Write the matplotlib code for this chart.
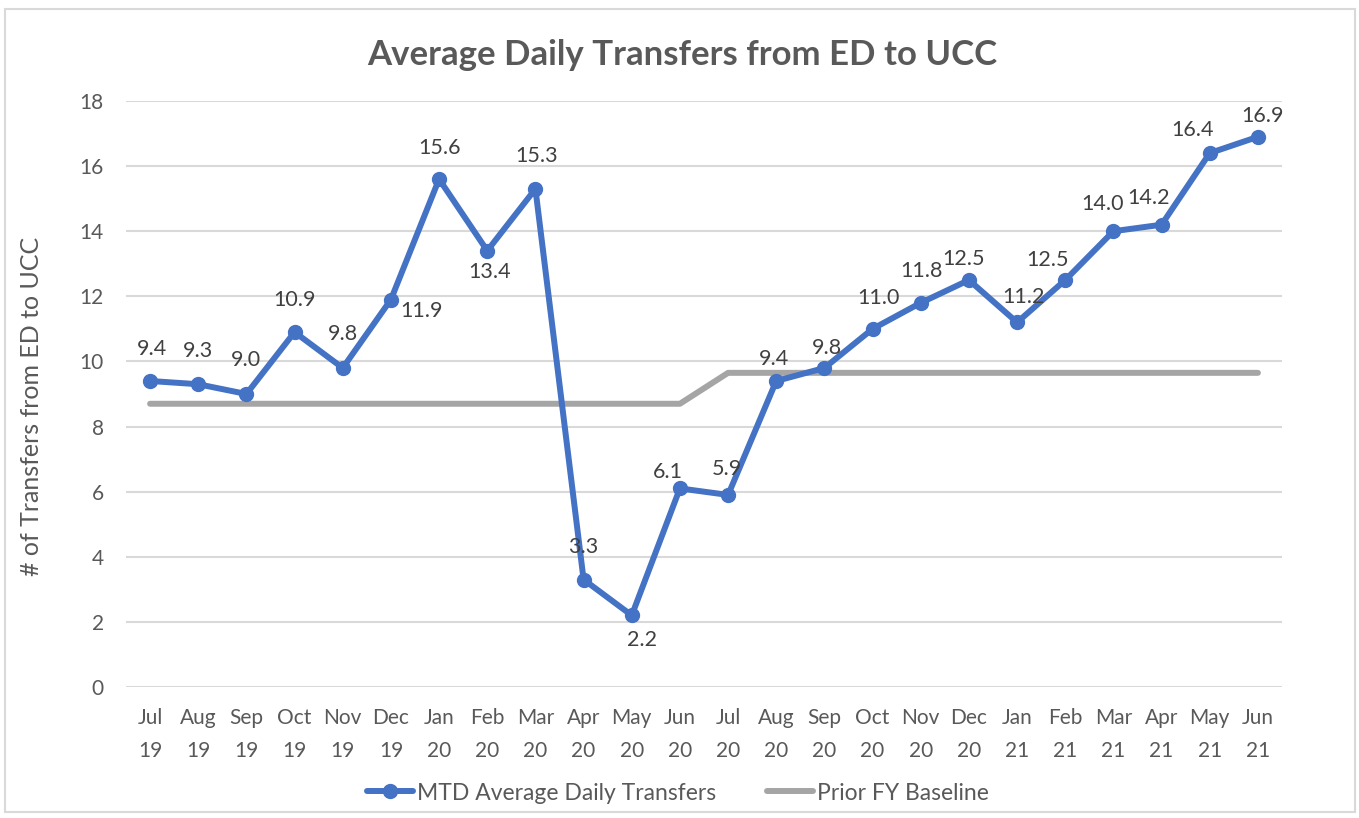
import matplotlib
matplotlib.use("Agg")
import matplotlib.pyplot as plt
from matplotlib.patches import Rectangle

months = ["Jul\n19", "Aug\n19", "Sep\n19", "Oct\n19", "Nov\n19", "Dec\n19",
          "Jan\n20", "Feb\n20", "Mar\n20", "Apr\n20", "May\n20", "Jun\n20",
          "Jul\n20", "Aug\n20", "Sep\n20", "Oct\n20", "Nov\n20", "Dec\n20",
          "Jan\n21", "Feb\n21", "Mar\n21", "Apr\n21", "May\n21", "Jun\n21"]
mtd_avg = [9.4, 9.3, 9.0, 10.9, 9.8, 11.9, 15.6, 13.4, 15.3, 3.3, 2.2, 6.1,
           5.9, 9.4, 9.8, 11.0, 11.8, 12.5, 11.2, 12.5, 14.0, 14.2, 16.4, 16.9]
baseline = [8.7] * 12 + [9.65] * 12
y_ticks = [0, 2, 4, 6, 8, 10, 12, 14, 16, 18]

# label offsets in pixels (dx, dy; dy positive = up)
label_offsets = [(2, 32), (0, 33), (0, 34), (0, 32), (0, 34), (31, -11),
                 (0, 31), (2, -21), (1, 33), (0, 33), (10, -25), (-12, 16),
                 (-1, 26), (-2, 22), (3, 20), (6, 31), (1, 32), (-5, 21),
                 (6, 25), (-18, 20), (-11, 27), (-13, 27), (-17, 23), (5, 21)]

BLUE = "#4472C4"
GRAY = "#A5A5A5"
TXT = "#595959"
FONT = "Lato"

fig = plt.figure(figsize=(13.59, 8.18), dpi=100)
fig.patches.append(Rectangle((5 / 1359, 6 / 818), 1350 / 1359, 803 / 818,
                             transform=fig.transFigure, fill=False,
                             edgecolor="#D9D9D9", linewidth=1.5))
ax = fig.add_axes([126 / 1359, 1 - 687 / 818, 1156 / 1359, 586 / 818])

x = list(range(len(months)))
l1, = ax.plot(x, mtd_avg, color=BLUE, linewidth=4.3, marker="o",
              markersize=10, solid_capstyle="round", zorder=3,
              label="MTD Average Daily Transfers")
l2, = ax.plot(x, baseline, color=GRAY, linewidth=4.3, zorder=2,
              solid_capstyle="round", label="Prior FY Baseline")

for xi, v, (dx, dy) in zip(x, mtd_avg, label_offsets):
    ax.annotate(f"{v:.1f}", (xi, v), xytext=(dx * 0.72, dy * 0.72),
                textcoords="offset points", ha="center", va="center",
                fontsize=15.5, color="#404040", family=FONT, zorder=4)

ax.set_xlim(-0.5, len(months) - 0.5)
ax.set_ylim(0, 18)
ax.set_yticks(y_ticks)
ax.set_xticks(x)
ax.set_xticklabels(months, fontsize=15, color=TXT, family=FONT,
                   linespacing=1.85)
ax.set_yticklabels([str(t) for t in y_ticks], fontsize=15, color=TXT,
                   family=FONT)
ax.tick_params(axis="both", length=0)
ax.tick_params(axis="x", pad=15)
ax.tick_params(axis="y", pad=16)
ax.grid(axis="y", color="#D9D9D9", linewidth=1.5)
ax.set_axisbelow(True)
for s in ax.spines.values():
    s.set_visible(False)

fig.text(32 / 1359, 1 - 406 / 818, "# of Transfers from ED to UCC",
         rotation=90, ha="center", va="center", fontsize=18, color=TXT,
         family=FONT)
fig.text(682 / 1359, 1 - 55 / 818, "Average Daily Transfers from ED to UCC",
         ha="center", va="center", fontsize=25, fontweight="bold",
         color=TXT, family=FONT)

fig.legend(handles=[l1, l2], loc="center", bbox_to_anchor=(678 / 1359, 1 - 793 / 818),
           ncol=2, frameon=False, numpoints=1, handlelength=2.0,
           handletextpad=0.2, columnspacing=2.2,
           prop={"family": FONT, "size": 16.5}, labelcolor=TXT)

fig.savefig("out.png", dpi=100)
